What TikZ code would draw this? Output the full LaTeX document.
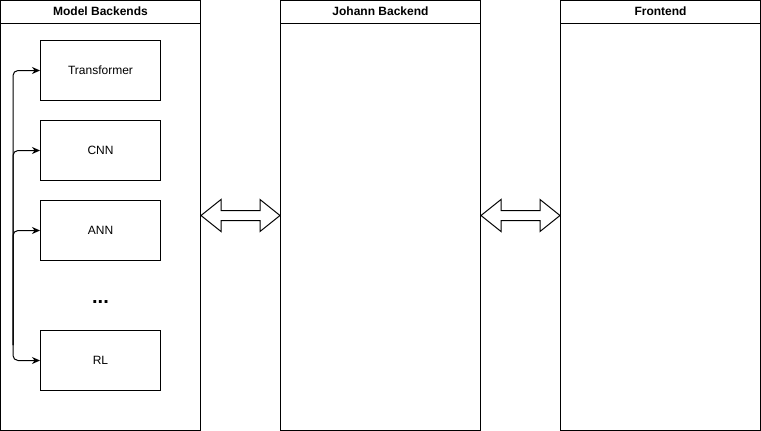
\documentclass[tikz,border=0pt]{standalone}
\usepackage{fontspec}
\setmainfont{Liberation Sans}
\usetikzlibrary{arrows.meta,calc}

\tikzset{
  lane/.style={draw,rectangle,minimum width=200pt,minimum height=430pt,inner sep=0pt},
  model/.style={draw,rectangle,minimum width=120pt,minimum height=60pt,inner sep=0pt,font=\fontsize{12}{14}\selectfont},
  title/.style={font=\fontsize{12}{14}\selectfont\bfseries},
  link/.style={-{Stealth[length=8pt,width=7pt]},rounded corners=5pt}
}
\newcommand{\bigarrow}[1]{\draw[fill=white] (#1) -- ++(20,-16) -- ++(0,11) -- ++(39,0) -- ++(0,-11) -- ++(20,16) -- ++(-20,16) -- ++(0,-11) -- ++(-39,0) -- ++(0,11) -- cycle;}

\begin{document}
\begin{tikzpicture}[x=1pt,y=-1pt,line width=1pt]
\useasboundingbox (0,0) rectangle (761,431);
% the three lanes
\node [lane] (mb) at(100.5,215.5){};
\node [lane] (jb) at(380.5,215.5){};
\node [lane] (fe) at(660.5,215.5){};
\foreach \l/\t in {mb/Model Backends,jb/Johann Backend,fe/Frontend}{
  \draw (\l.north west) ++(0,23) -- ++(200,0);
  \node [title] at ($(\l.north)+(0,11.5)$) {\t};
}
\node [model] (tr) at(100.5,70.5){Transformer};
\node [model] (cnn) at(100.5,150.5){CNN};
\node [model] (ann) at(100.5,230.5){ANN};
\node [model] (rl) at(100.5,360.5){RL};
\node [anchor=base,font=\fontsize{20}{22}\selectfont\bfseries] (dots) at(100.5,303.5){...};
\coordinate (hub) at(13,345);
\draw[link](hub) |- (tr.west);
\draw[link](hub) |- (cnn.west);
\draw[link](hub) |- (ann.west);
\draw[link](hub) |- (rl.west);
% block arrows between lanes
\bigarrow{mb.east}
\bigarrow{jb.east}
\end{tikzpicture}
\end{document}
